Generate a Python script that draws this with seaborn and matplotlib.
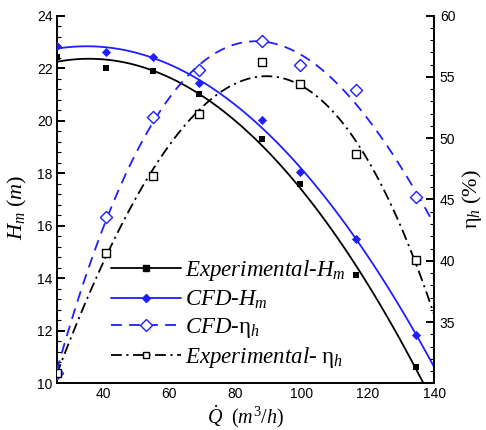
import matplotlib
matplotlib.use("Agg")
import matplotlib.pyplot as plt
from matplotlib.lines import Line2D
from matplotlib.ticker import MultipleLocator
import pandas as pd
import seaborn as sns

# Flow rate (m3/h) and measured / simulated pump performance
flow = [26, 41, 55, 69, 88, 99.5, 116.5, 134.5]
head_exp = [22.44, 22.02, 21.89, 21.00, 19.29, 17.58, 14.13, 10.63]
head_cfd = [22.85, 22.63, 22.44, 21.43, 20.03, 18.06, 15.49, 11.84]
eff_cfd = [30.8, 43.6, 51.7, 55.6, 57.9, 56.0, 53.9, 45.2]
eff_exp = [30.8, 40.6, 46.9, 52.0, 56.2, 54.4, 48.7, 40.1]

x_ticks = [40, 60, 80, 100, 120, 140]
h_ticks = [10, 12, 14, 16, 18, 20, 22, 24]
eta_ticks = [35, 40, 45, 50, 55, 60]

labels = [r"Experimental-$H_m$", r"CFD-$H_m$",
          r"CFD-$\mathrm{\eta}_h$", r"Experimental- $\mathrm{\eta}_h$"]

df = pd.DataFrame({"Q": flow, "H_exp": head_exp, "H_cfd": head_cfd,
                   "eta_cfd": eff_cfd, "eta_exp": eff_exp})

sns.set_style("white")
plt.rcParams["font.family"] = ["Liberation Sans", "DejaVu Sans"]
plt.rcParams["mathtext.fontset"] = "custom"
plt.rcParams["mathtext.rm"] = "Liberation Serif"
plt.rcParams["mathtext.it"] = "Liberation Serif:italic"
plt.rcParams["mathtext.bf"] = "Liberation Serif:bold"
for key in ("text.color", "axes.labelcolor", "xtick.color", "ytick.color"):
    plt.rcParams[key] = "black"

BLUE = "#1e1eff"
BLACK = "#000000"
LW = 1.3
DASHED = (0, (6.0, 4.0))
DASHDOT = (0, (6.0, 2.5, 1.2, 2.5))

fig = plt.figure(figsize=(4.86, 4.30), dpi=100)
fig.subplots_adjust(left=0.1167, right=0.8936, bottom=0.1086, top=0.9635)
ax = fig.add_subplot(111)
ax.set_xlim(26, 140)
ax.set_ylim(10, 24)
ax2 = ax.twinx()
ax2.set_xlim(26, 140)
ax2.set_ylim(30, 60)

# Head curves (quadratic trend lines) on the left axis
sns.regplot(data=df, x="Q", y="H_exp", order=2, ci=None, truncate=False, ax=ax,
            color=BLACK, marker="s",
            scatter_kws=dict(s=24, alpha=1, linewidths=0, zorder=4),
            line_kws=dict(lw=LW, zorder=3))
sns.regplot(data=df, x="Q", y="H_cfd", order=2, ci=None, truncate=False, ax=ax,
            color=BLUE, marker="D",
            scatter_kws=dict(s=22, alpha=1, linewidths=0, zorder=4),
            line_kws=dict(lw=LW, zorder=3))

# Efficiency curves (cubic trend lines) on the right axis
sns.regplot(data=df, x="Q", y="eta_cfd", order=3, ci=None, truncate=False, ax=ax2,
            color=BLUE, marker="D",
            scatter_kws=dict(s=38, alpha=1, facecolors="white",
                             edgecolors=BLUE, linewidths=1.0, zorder=4),
            line_kws=dict(lw=LW, ls=DASHED, zorder=3))
sns.regplot(data=df, x="Q", y="eta_exp", order=3, ci=None, truncate=False, ax=ax2,
            color=BLACK, marker="s",
            scatter_kws=dict(s=30, alpha=1, facecolors="white",
                             edgecolors=BLACK, linewidths=1.0, zorder=4),
            line_kws=dict(lw=LW, ls=DASHDOT, zorder=3))

ax.set_xlim(26, 140)
ax2.set_xlim(26, 140)

# Axes styling
for a in (ax, ax2):
    a.spines["top"].set_visible(False)
    for s in a.spines.values():
        s.set_linewidth(1.4)
        s.set_color("black")
    a.set_facecolor("none")
ax.spines["right"].set_visible(False)
ax2.spines["left"].set_visible(False)
ax2.spines["bottom"].set_visible(False)

ax.set_xticks(x_ticks)
ax.set_yticks(h_ticks)
ax2.set_yticks(eta_ticks)
ax.xaxis.set_minor_locator(MultipleLocator(4))
ax.yaxis.set_minor_locator(MultipleLocator(0.4))
ax2.yaxis.set_minor_locator(MultipleLocator(1))

ax.tick_params(which="major", direction="in", length=6, width=1.4, labelsize=10,
               top=False, right=False, pad=3, colors="black")
ax.tick_params(which="minor", direction="in", length=3, width=0.8,
               top=False, right=False, colors="black")
ax2.tick_params(which="major", direction="in", length=6, width=1.4, labelsize=10,
                pad=4, colors="black")
ax2.tick_params(which="minor", direction="in", length=3, width=0.8, colors="black")

ax.set_xlabel(r"$\dot{Q}\ \ (m^3/h)$", fontsize=14.5, labelpad=1)
ax.set_ylabel(r"$H_m\ (m)$", fontsize=16)
ax.yaxis.set_label_coords(-0.074, 0.48)
ax2.set_ylabel(r"$\mathrm{\eta}_h\ (\%)$", fontsize=16, labelpad=3)

handles = [
    Line2D([], [], color=BLACK, lw=LW, marker="s", ms=5.0, mfc=BLACK, mec=BLACK),
    Line2D([], [], color=BLUE, lw=LW, marker="D", ms=4.5, mfc=BLUE, mec=BLUE),
    Line2D([], [], color=BLUE, lw=LW, ls=DASHED, marker="D", ms=6.0,
           mfc="white", mec=BLUE, mew=1.0),
    Line2D([], [], color=BLACK, lw=LW, ls=DASHDOT, marker="s", ms=5.0,
           mfc="white", mec=BLACK, mew=1.0),
]
leg = ax2.legend(handles, labels, loc="lower left", bbox_to_anchor=(0.143, 0.035),
                 frameon=False, handlelength=3.05, handletextpad=0.18,
                 labelspacing=0.23, borderaxespad=0, borderpad=0,
                 prop=dict(family="Liberation Serif", style="italic", size=16.5))

fig.savefig("out.png", dpi=100)
